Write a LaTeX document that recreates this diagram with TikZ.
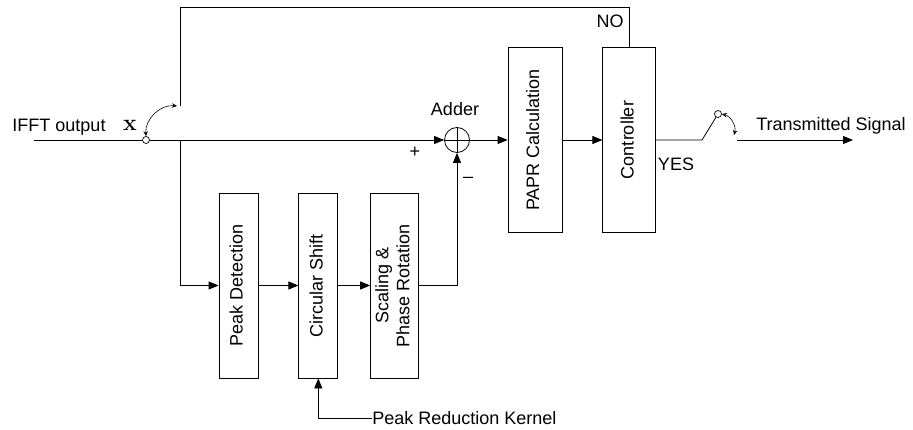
\documentclass[tikz,border=0pt]{standalone}
\usepackage{fontspec}
\setmainfont{Liberation Sans}
\newfontfamily\lmserif{Latin Modern Roman}
\usetikzlibrary{arrows.meta, positioning}

\newcommand{\vlabel}[1]{\rotatebox{90}{\begin{tabular}{@{}c@{}}#1\end{tabular}}}

\tikzset{
  blk/.style={draw, line width=0.8pt, minimum height=185pt, inner sep=0pt,
              font=\fontsize{18}{21}\selectfont},
  lbl/.style={inner sep=0pt, font=\fontsize{18}{21}\selectfont},
  sum/.style={draw, circle, line width=0.8pt, minimum size=25pt, inner sep=0pt},
  swc/.style={draw, circle, fill=white, line width=0.7pt, minimum size=7pt, inner sep=0pt},
  swarrow/.style={line width=0.6pt, {Stealth[length=5pt,width=4.5pt]}-{Stealth[length=5pt,width=4.5pt]}}
}

\begin{document}
\begin{tikzpicture}[x=1pt, y=-1pt, line width=0.8pt,
                    >={Triangle[length=10pt,width=8pt]}]
    \useasboundingbox (0,0) rectangle (913,430);

    % blocks
    \node[blk, minimum width=39pt] (peak) at (238.5,285.5) {\vlabel{Peak Detection}};
    \node[blk, minimum width=39pt, right=40pt of peak] (circ) {\vlabel{Circular Shift}};
    \node[blk, minimum width=48pt, right=32pt of circ] (scal) {\vlabel{Scaling \&\\Phase Rotation}};
    \node[blk, minimum width=54pt] (papr) at (535,140) {\vlabel{PAPR Calculation}};
    \node[blk, minimum width=53pt, right=40pt of papr] (ctrl) {\vlabel{Controller}};

    % adder and switches
    \node[sum] (add) at (457,140) {};
    \draw (add.north) -- (add.south) (add.west) -- (add.east);
    \node[swc] (sw1) at (146,140) {};
    \node[swc] (sw2) at (718,114) {};

    \coordinate (in) at (34,140);
    \coordinate (j1) at (180,140);
    \coordinate (sw1c) at (180,106);
    \coordinate (top) at (180,7);
    \coordinate (sw2a) at (702,140);
    \coordinate (sw2b) at (737,140);
    \coordinate (out) at (853,140);
    \coordinate (kern) at (372,418);

    % signal path
    \draw (in) -- (sw1);
    \draw[->] (sw1) -- (add);
    \draw[->] (j1) |- (peak);
    \draw[->] (peak) -- (circ);
    \draw[->] (circ) -- (scal);
    \draw[->] (scal) -| (add);
    \draw[->] (add) -- (papr);
    \draw[->] (papr) -- (ctrl);
    \draw (ctrl.north) |- (top) -- (sw1c);
    \draw[->] (kern) -| (circ);
    \draw (ctrl) -- (sw2a) -- (sw2);
    \draw[->] (sw2b) -- (out);

    % switch arrows
    \draw[swarrow] (sw1.north) to[bend left=50] ([xshift=-3pt]sw1c);
    \draw[swarrow] (sw2.east) to[bend left=45] ([shift={(-3pt,5pt)}]sw2b);

    % labels
    \node[lbl] (inlbl) at (59,127) {IFFT output};
    \node[lbl, font=\lmserif\bfseries\fontsize{23}{25}\selectfont] (xlbl) at (130,125) {x};
    \node[lbl] (addlbl) at (455,109) {Adder};
    \node[lbl] (plus) at (415,152) {+};
    \node[lbl] (minus) at (468,180) {\textendash};
    \node[lbl] (nolbl) at (610,21) {NO};
    \node[lbl] (yeslbl) at (676,164) {YES};
    \node[lbl, anchor=west] (kernlbl) at (kern) {Peak Reduction Kernel};
    \node[lbl] (outlbl) at (831,126) {Transmitted Signal};
\end{tikzpicture}
\end{document}
